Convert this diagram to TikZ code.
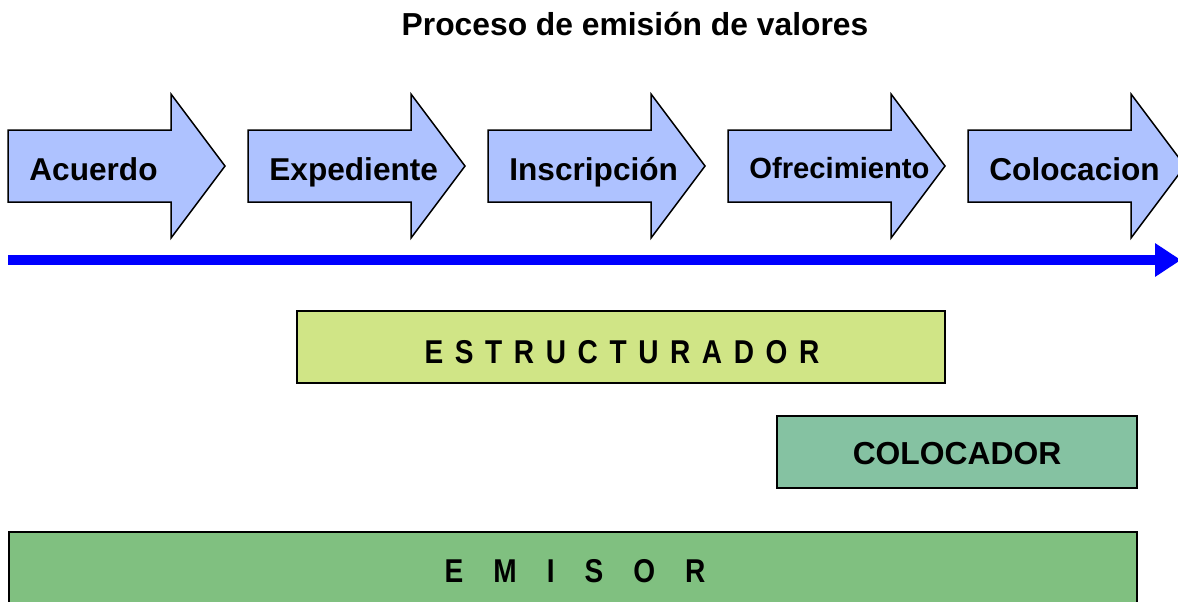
\documentclass[tikz,border=0pt]{standalone}
\usepackage{fontspec}
\setmainfont{Liberation Sans}
\newfontfamily\narrowbold[FakeStretch=0.85]{Liberation Sans}
\usetikzlibrary{arrows.meta}
\definecolor{arrowfill}{HTML}{AEC2FF}
\definecolor{estfill}{HTML}{D0E586}
\definecolor{colfill}{HTML}{85C2A2}
\definecolor{emifill}{HTML}{80C080}
\definecolor{timeline}{HTML}{0000FF}
\begin{document}
\begin{tikzpicture}[x=0.5pt,y=-0.5pt,
  stepbox/.style={draw=black,line width=0.75pt,fill=arrowfill},
  steptext/.style={anchor=base west,inner sep=0pt,font=\bfseries\fontsize{15.8}{18}\selectfont},
  rolebox/.style={draw=black,line width=0.75pt,anchor=north west,inner sep=0pt},
  roletext/.style={inner sep=0pt,font=\bfseries\fontsize{15.9}{18}\selectfont}]
\useasboundingbox (0,0) rectangle (1178,601);
\clip (0,0) rectangle (1178,601);
\node[font=\bfseries\fontsize{15.9}{18}\selectfont,anchor=base] (title) at (635,35) {Proceso de emisión de valores};
% process arrows
\foreach \x/\t/\n in {8/Acuerdo/s1,248/Expediente/s2,488/Inscripción/s3,968/Colocacion/s5}{
  \draw[stepbox] (\x,130) -- (\x+163,130) -- (\x+163,94) -- (\x+217,166) -- (\x+163,238) -- (\x+163,202) -- (\x,202) -- cycle;
  \node[steptext] (\n) at (\x+21,180) {\t};
}
\draw[stepbox] (728,130) -- (891,130) -- (891,94) -- (945,166) -- (891,238) -- (891,202) -- (728,202) -- cycle;
\node[steptext,font=\bfseries\fontsize{14.6}{17}\selectfont] (s4) at (749,178) {Ofrecimiento};
% timeline
\coordinate (tl0) at (8,260);
\coordinate (tl1) at (1181,260);
\draw[timeline,line width=5pt,-{Triangle[length=13pt,width=16pt]}] (tl0) -- (tl1);
% roles
\draw[rolebox,fill=estfill] (297,311) rectangle (945,383);
\node[roletext,font=\bfseries\fontsize{16.5}{18}\selectfont] (est) at (622,352) {\narrowbold E\hspace{5.8pt}S\hspace{5.8pt}T\hspace{5.8pt}R\hspace{5.8pt}U\hspace{5.8pt}C\hspace{5.8pt}T\hspace{5.8pt}U\hspace{5.8pt}R\hspace{5.8pt}A\hspace{5.8pt}D\hspace{5.8pt}O\hspace{5.8pt}R};
\draw[rolebox,fill=colfill] (777,416) rectangle (1137,488);
\node[roletext] (col) at (957,454) {COLOCADOR};
\draw[rolebox,fill=emifill] (9,532) rectangle (1137,640);
\node[roletext,font=\bfseries\fontsize{16.5}{18}\selectfont] (emi) at (575,571) {\narrowbold E\hspace{15pt}M\hspace{15pt}I\hspace{15pt}S\hspace{15pt}O\hspace{15pt}R};
\end{tikzpicture}
\end{document}
